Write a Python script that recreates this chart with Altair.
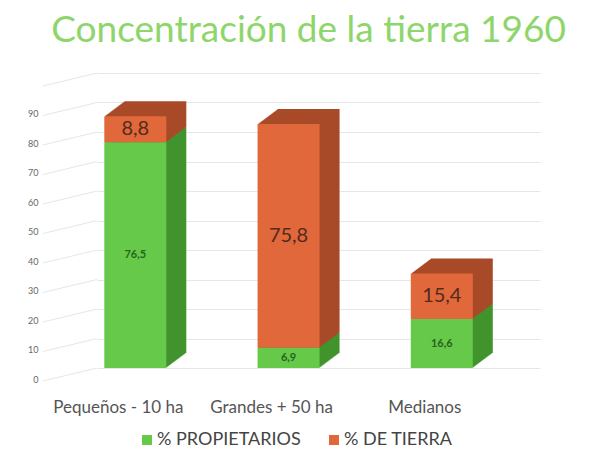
import altair as alt
import pandas as pd

categorias = ["Pequeños - 10 ha", "Grandes + 50 ha", "Medianos"]
series = ["% PROPIETARIOS", "% DE TIERRA"]
propietarios = [76.5, 6.9, 16.6]
tierra = [8.8, 75.8, 15.4]
ticks_y = [0, 10, 20, 30, 40, 50, 60, 70, 80, 90, 100]

VERDE, VERDE_OSC = "#66c94a", "#42942d"
NARANJA, NARANJA_OSC = "#e0683b", "#a94a28"

rows = []
for c, p, t in zip(categorias, propietarios, tierra):
    rows.append({"cat": c, "serie": series[0], "k": 0, "v": p})
    rows.append({"cat": c, "serie": series[1], "k": 1, "v": t})
df = pd.DataFrame(rows)
df_ticks = pd.DataFrame({"t": ticks_y})

FONT = "Lato"

xenc = alt.X(
    "cat:N",
    sort=categorias,
    scale=alt.Scale(paddingInner=0.5, paddingOuter=0.1954, align=0),
    axis=alt.Axis(
        title=None, labelAngle=0, domain=False, ticks=False, labelPadding=31,
        labelOffset=-17, labelFontSize=17, labelColor="#555555", labelFont=FONT,
    ),
)
yscale = alt.Scale(domain=[0, 100], nice=False)
yaxis = alt.Axis(values=ticks_y, title=None, domain=False, ticks=False,
                 labelPadding=59, labelOffset=11, labelFontSize=9,
                 labelColor="#666666", labelFont=FONT, labelOverlap=False,
                 gridColor="#e6e6e6",
                 labelExpr="datum.value >= 100 ? '' : datum.label")

base = alt.Chart(df).transform_stack(
    stack="v", groupby=["cat"], as_=["v0", "v1"], sort=[alt.SortField("k", order="ascending")]
).transform_calculate(
    mid="(datum.v0 + datum.v1) / 2",
    etiqueta="replace(format(datum.v, '.1f'), '.', ',')",
)

grid_diag = alt.Chart(df_ticks).mark_rule(color="#e6e6e6", strokeWidth=1, yOffset=13, y2Offset=0).encode(
    x=alt.value(-54), x2=alt.value(0),
    y=alt.Y("t:Q", scale=yscale, axis=yaxis),
    y2="t:Q",
)

# extruded depth (3D side and top faces)
N = 20
DX, DY = 20.0, 15.0
capas_sombra = []
for i in range(N, 0, -1):
    ox, oy = DX * i / N, -DY * i / N
    for k, col in ((0, VERDE_OSC), (1, NARANJA_OSC)):
        capas_sombra.append(
            base.transform_filter(f"datum.k == {k}").mark_bar(
                width=62, color=col, xOffset=ox, yOffset=oy, y2Offset=oy
            ).encode(x=xenc, y=alt.Y("v1:Q", scale=yscale, axis=yaxis), y2="v0:Q")
        )

frente = base.mark_bar(width=62).encode(
    x=xenc,
    y=alt.Y("v1:Q", scale=yscale, axis=yaxis),
    y2="v0:Q",
    color=alt.Color(
        "serie:N",
        scale=alt.Scale(domain=series, range=[VERDE, NARANJA]),
        legend=alt.Legend(
            title=None, orient="none", direction="horizontal", legendX=41, legendY=358,
            symbolType="square", symbolSize=100, symbolStrokeWidth=0,
            labelFontSize=18, labelColor="#444444", labelFont=FONT,
            columnPadding=24, labelOffset=1,
        ),
    ),
)

txt_v = base.transform_filter("datum.k == 0").mark_text(
    fontSize=11, fontWeight="bold", color="#26631d", font=FONT
).encode(x=xenc, y=alt.Y("mid:Q", scale=yscale, axis=yaxis), text="etiqueta:N")
txt_n = base.transform_filter("datum.k == 1").mark_text(
    fontSize=20, color="#532b1d", font=FONT
).encode(x=xenc, y=alt.Y("mid:Q", scale=yscale, axis=yaxis), text="etiqueta:N")

chart = alt.layer(grid_diag, *capas_sombra, frente, txt_v, txt_n).properties(
    width=443,
    height=295,
    autosize=alt.AutoSizeParams(type="none"),
    padding={"left": 89, "top": 65, "right": 44, "bottom": 89},
    title=alt.TitleParams(
        "Concentración de la tierra 1960",
        fontSize=37, font=FONT, fontWeight="normal", color="#8ed66b",
        anchor="middle", offset=23, dx=-10,
    ),
).configure_view(stroke=None)

chart.save("out.html", embed_options={"renderer": "svg", "actions": False})
